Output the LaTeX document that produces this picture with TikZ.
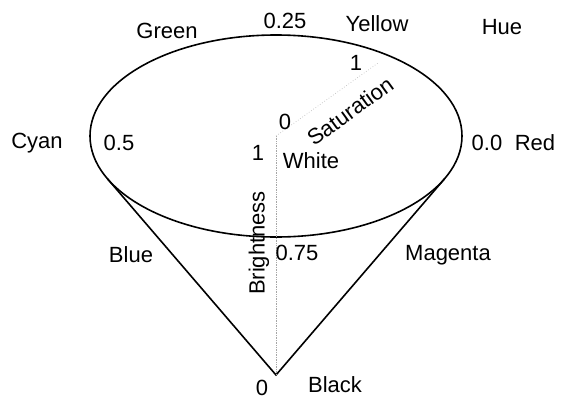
\documentclass[tikz,border=0pt]{standalone}
\usepackage{fontspec}
\setmainfont{Liberation Sans}
\begin{document}
\begin{tikzpicture}[x=1pt,y=-1pt,
  lbl/.style={inner sep=0pt,font=\fontsize{22}{26}\selectfont},
  solidline/.style={line width=1.6pt,black},
  axisline/.style={gray!70,densely dotted,line width=0.7pt}]
\useasboundingbox (0,0) rectangle (565,399);
% geometry
\coordinate (c) at (276,136);
\coordinate (apex) at (276,375);
\coordinate (tl) at (107.4,178.7);
\coordinate (tr) at (444.6,178.7);
\coordinate (sat) at (378,63);
% shapes
\draw[solidline] (c) ellipse [x radius=186, y radius=101];
\draw[solidline,line join=miter] (tl) -- (apex) -- (tr);
\draw[axisline] (c) -- (apex);
\draw[axisline,gray!50,dotted] (c) -- (sat);
% labels
\node[lbl] (green) at (167,31) {Green};
\node[lbl] (q25) at (285,21) {0.25};
\node[lbl] (yellow) at (377,24) {Yellow};
\node[lbl] (hue) at (502,27) {Hue};
\node[lbl] (s1) at (356,63) {1};
\node[lbl] (s0) at (285,122) {0};
\node[lbl,rotate=36] (satl) at (350,111) {Saturation};
\node[lbl] (cyan) at (37,143) {Cyan};
\node[lbl] (h5) at (119,143) {0.5};
\node[lbl] (b1) at (258,153) {1};
\node[lbl] (white) at (311,161) {White};
\node[lbl] (h0) at (487,143) {0.0};
\node[lbl] (red) at (535,143) {Red};
\node[lbl] (blue) at (131,255) {Blue};
\node[lbl,rotate=90] (bright) at (259,243) {Brightness};
\node[lbl] (h75) at (297,253) {0.75};
\node[lbl] (magenta) at (448,255) {Magenta};
\node[lbl] (b0) at (262,388) {0};
\node[lbl] (black) at (335,385) {Black};
\end{tikzpicture}
\end{document}
